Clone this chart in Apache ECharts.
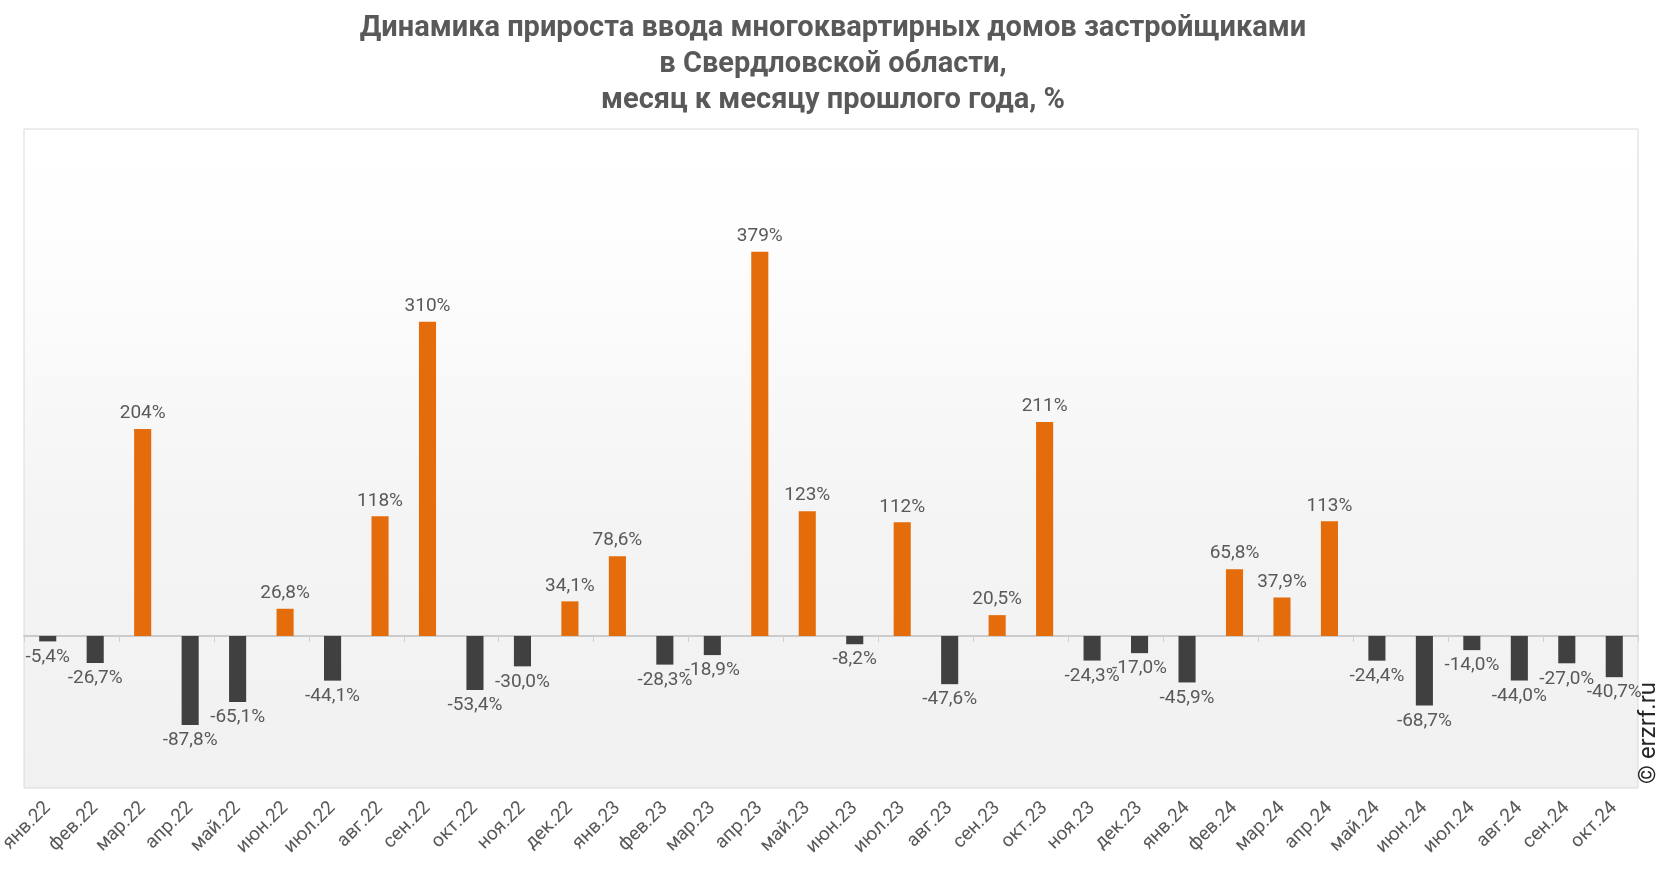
<!DOCTYPE html>
<html><head><meta charset="utf-8">
<script src="https://cdn.jsdelivr.net/npm/echarts@6/dist/echarts.min.js"></script>
<style>html,body{margin:0;padding:0;background:#fff}#c{width:1666px;height:872px}</style>
</head><body><div id="c"></div>
<script>
const categories = ['янв.22','фев.22','мар.22','апр.22','май.22','июн.22','июл.22','авг.22','сен.22','окт.22','ноя.22','дек.22',
'янв.23','фев.23','мар.23','апр.23','май.23','июн.23','июл.23','авг.23','сен.23','окт.23','ноя.23','дек.23',
'янв.24','фев.24','мар.24','апр.24','май.24','июн.24','июл.24','авг.24','сен.24','окт.24'];
const values = [-5.4,-26.7,204,-87.8,-65.1,26.8,-44.1,118,310,-53.4,-30.0,34.1,
78.6,-28.3,-18.9,379,123,-8.2,112,-47.6,20.5,211,-24.3,-17.0,
-45.9,65.8,37.9,113,-24.4,-68.7,-14.0,-44.0,-27.0,-40.7];
const titleText = 'Динамика прироста ввода многоквартирных домов застройщиками\nв Свердловской области,\nмесяц к месяцу прошлого года, %';
const ORANGE = '#E46C0A', DARK = '#404040';

function fmt(v){
  const s = Math.abs(v) >= 100 ? v.toFixed(0) : v.toFixed(1);
  return s.replace('.', ',') + '%';
}

const chart = echarts.init(document.getElementById('c'));
chart.setOption({
  animation:false,
  title:{text:titleText,left:'center',top:6,
    textStyle:{fontFamily:'Roboto',fontWeight:'bold',fontSize:29,color:'#595959',lineHeight:36}},
  grid:{left:24,right:28,top:129,bottom:84,containLabel:false,outerBoundsMode:'none',
    show:true,borderColor:'#d9d9d9',borderWidth:1,
    backgroundColor:{type:'linear',x:0,y:0,x2:0,y2:1,colorStops:[
      {offset:0,color:'#ffffff'},{offset:0.15,color:'#fefefe'},{offset:0.6,color:'#f4f4f4'},{offset:1,color:'#f1f1f1'}]}},
  xAxis:[
    {type:'category',data:categories,position:'bottom',
      axisLine:{onZero:true,lineStyle:{color:'#bfbfbf',width:1.5}},
      axisTick:{show:true,length:6,lineStyle:{color:'#d0d0d0'}},
      axisLabel:{show:false}},
    {type:'category',data:categories,position:'bottom',gridIndex:0,
      axisLine:{show:false},axisTick:{show:false},
      axisLabel:{rotate:45,interval:0,margin:17,fontFamily:'Roboto',fontSize:19,color:'#595959'}}
  ],
  yAxis:{type:'value',min:-150,max:500,show:false,splitLine:{show:false}},
  graphic:[{type:'text',right:5,top:682,rotation:Math.PI/2,
    style:{text:'© erzrf.ru',font:'24px Roboto',fill:'#262626'}}],
  series:[{type:'bar',xAxisIndex:0,barWidth:'36%',
    data:values.map(v=>({value:v,
      itemStyle:{color: v>=0?ORANGE:DARK},
      label:{position: v>=0?'top':'bottom'}})),
    label:{show:true,distance:6,fontFamily:'Roboto',fontSize:19,color:'#595959',formatter:p=>fmt(p.value)},
    labelLayout:{moveOverlap:'shiftX'}
  }]
});
</script></body></html>
